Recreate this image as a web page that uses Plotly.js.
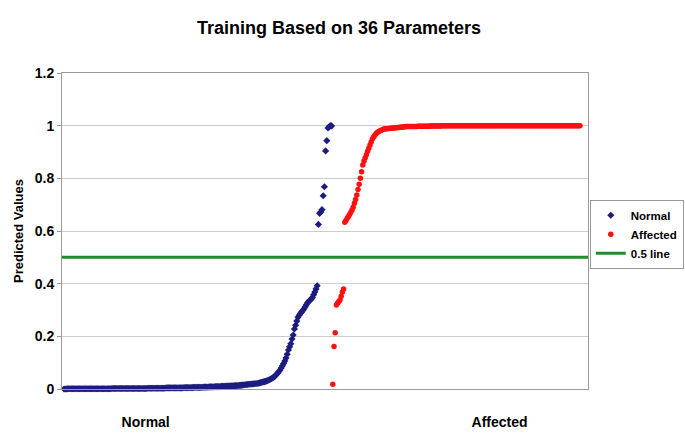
<!DOCTYPE html>
<html>
<head>
<meta charset="utf-8">
<script src="https://cdn.plot.ly/plotly-3.0.1.min.js"></script>
<style>
  html, body { margin: 0; padding: 0; background: #ffffff; }
  #plot { width: 685px; height: 443px; }
</style>
</head>
<body>
<div id="plot"></div>
<script>
// predicted values, sorted, one entry per sample
const normalValues = [
    0, 0, 0, 0.001, 0.001, 0.001, 0.001, 0.001, 0.001, 0.001,
    0.001, 0.001, 0.001, 0.001, 0.001, 0.001, 0.001, 0.001, 0.001, 0.001,
    0.001, 0.001, 0.001, 0.001, 0.001, 0.001, 0.001, 0.001, 0.001, 0.001,
    0.001, 0.001, 0.001, 0.001, 0.001, 0.001, 0.001, 0.001, 0.001, 0.001,
    0.002, 0.002, 0.002, 0.002, 0.002, 0.002, 0.002, 0.002, 0.002, 0.002,
    0.002, 0.002, 0.002, 0.002, 0.002, 0.002, 0.002, 0.002, 0.002, 0.002,
    0.002, 0.002, 0.002, 0.002, 0.002, 0.002, 0.002, 0.002, 0.002, 0.002,
    0.003, 0.003, 0.003, 0.003, 0.003, 0.003, 0.003, 0.003, 0.003, 0.003,
    0.003, 0.003, 0.003, 0.003, 0.003, 0.004, 0.004, 0.004, 0.004, 0.004,
    0.004, 0.004, 0.004, 0.004, 0.004, 0.004, 0.004, 0.004, 0.004, 0.004,
    0.005, 0.005, 0.005, 0.005, 0.005, 0.005, 0.005, 0.005,
    0.006, 0.006, 0.006, 0.006, 0.006, 0.006, 0.006, 0.006,
    0.007, 0.007, 0.007, 0.007, 0.007, 0.008, 0.008, 0.008, 0.008, 0.008,
    0.009, 0.009, 0.009, 0.009, 0.009,
    0.010, 0.010, 0.010, 0.010, 0.011, 0.011, 0.011, 0.011,
    0.012, 0.012, 0.012, 0.012, 0.013, 0.013, 0.013,
    0.014, 0.014, 0.015, 0.015, 0.016, 0.016, 0.017, 0.017, 0.018, 0.018,
    0.019, 0.019, 0.020, 0.020, 0.021, 0.021, 0.022, 0.023,
    0.024, 0.026, 0.027, 0.028, 0.029, 0.031, 0.033,
    0.035, 0.037, 0.040, 0.042, 0.046,
    0.050, 0.055, 0.060, 0.066, 0.072, 0.080, 0.088, 0.097, 0.106, 0.118,
    0.132, 0.148, 0.160, 0.172, 0.190, 0.205, 0.228, 0.242, 0.258, 0.272,
    0.280, 0.287, 0.292, 0.298, 0.305, 0.312, 0.320, 0.328, 0.333, 0.337,
    0.342, 0.347, 0.358, 0.368, 0.380, 0.392,
    0.625, 0.667, 0.672, 0.681, 0.734, 0.768, 0.904, 0.943, 0.991, 0.996,
    1.0, 0.999
];

const affectedValues = [
    0.018, 0.161, 0.214, 0.319, 0.326, 0.332, 0.338, 0.352, 0.368, 0.380,
    0.633, 0.640, 0.648, 0.655, 0.663, 0.671, 0.680, 0.690, 0.705, 0.720,
    0.737, 0.758, 0.778, 0.800, 0.825, 0.851, 0.866, 0.878, 0.890, 0.903,
    0.914, 0.927, 0.938, 0.949, 0.957, 0.964, 0.969, 0.974, 0.977, 0.980,
    0.982, 0.984, 0.986, 0.987,
    0.988, 0.988, 0.989, 0.989, 0.990, 0.990, 0.991, 0.991, 0.992, 0.992,
    0.993, 0.993, 0.994, 0.994, 0.995, 0.995, 0.996,
    0.997, 0.997, 0.997, 0.997, 0.997, 0.997, 0.997, 0.997, 0.997, 0.997,
    0.998, 0.998, 0.998, 0.998, 0.998, 0.998, 0.998, 0.998, 0.998, 0.998,
    0.999, 0.999, 0.999, 0.999, 0.999, 0.999, 0.999, 0.999, 0.999, 0.999,
    1, 1, 1, 1, 1, 1, 1, 1, 1, 1, 1, 1, 1, 1, 1, 1, 1, 1, 1, 1,
    1, 1, 1, 1, 1, 1, 1, 1, 1, 1, 1, 1, 1, 1, 1, 1, 1, 1, 1, 1,
    1, 1, 1, 1, 1, 1, 1, 1, 1, 1, 1, 1, 1, 1, 1, 1, 1, 1, 1, 1,
    1, 1, 1, 1, 1, 1, 1, 1, 1, 1, 1, 1, 1, 1, 1, 1, 1, 1, 1, 1,
    1, 1, 1, 1, 1, 1, 1, 1, 1, 1, 1, 1, 1, 1, 1, 1, 1, 1, 1, 1,
    1, 1, 1, 1, 1, 1, 1, 1, 1, 1, 1, 1, 1, 1, 1, 1
];

const groupLabels = ["Normal", "Affected"];
const thresholdValue = 0.5;
const yTicks = [0, 0.2, 0.4, 0.6, 0.8, 1, 1.2];

const xRange = [-1.7, 436.7];
const boldFont = { family: "Arial, 'Liberation Sans', sans-serif", color: "#000000", weight: 700 };

const traces = [
    {
        y: normalValues,
        x0: 0,
        dx: 1,
        type: "scatter",
        mode: "markers",
        name: "Normal",
        cliponaxis: false,
        marker: { symbol: "diamond", size: 5.5, color: "#1c1c80" }
    },
    {
        y: affectedValues,
        x0: normalValues.length,
        dx: 1,
        type: "scatter",
        mode: "markers",
        name: "Affected",
        cliponaxis: false,
        marker: { symbol: "circle", size: 5.5, color: "#ff1010" }
    },
    {
        x: xRange,
        y: [thresholdValue, thresholdValue],
        type: "scatter",
        mode: "lines",
        name: "0.5 line",
        line: { color: "#1e8c2a", width: 3 }
    }
];

const layout = {
    width: 685,
    height: 443,
    margin: { l: 62, r: 97, t: 73, b: 54 },
    paper_bgcolor: "#ffffff",
    plot_bgcolor: "#ffffff",
    title: {
        text: "Training Based on 36 Parameters",
        font: Object.assign({}, boldFont, { size: 18 }),
        xref: "container",
        x: 0.495,
        y: 0.937,
        yanchor: "middle"
    },
    xaxis: {
        range: xRange,
        showgrid: false,
        zeroline: false,
        showline: true,
        linecolor: "#9a9a9a",
        linewidth: 1,
        mirror: true,
        ticks: "",
        tickmode: "array",
        tickvals: [68, 363],
        ticktext: groupLabels,
        ticklabelstandoff: 20,
        tickfont: Object.assign({}, boldFont, { size: 14 })
    },
    yaxis: {
        range: [0, 1.2],
        tickmode: "array",
        tickvals: yTicks,
        ticktext: yTicks.map(String),
        showgrid: true,
        gridcolor: "#cccccc",
        gridwidth: 1,
        zeroline: false,
        showline: true,
        linecolor: "#9a9a9a",
        linewidth: 1,
        mirror: true,
        ticks: "outside",
        ticklen: 4,
        tickcolor: "#9a9a9a",
        tickfont: Object.assign({}, boldFont, { size: 14 }),
        title: {
            text: "Predicted Values",
            font: Object.assign({}, boldFont, { size: 13 }),
            standoff: 8
        }
    },
    showlegend: true,
    legend: {
        xref: "container",
        yref: "container",
        x: 0.861,
        xanchor: "left",
        y: 0.549,
        yanchor: "top",
        bgcolor: "#ffffff",
        bordercolor: "#9a9a9a",
        borderwidth: 1,
        font: Object.assign({}, boldFont, { size: 11.5 }),
        tracegroupgap: 0,
        itemwidth: 30
    }
};

Plotly.newPlot("plot", traces, layout, { displayModeBar: false, staticPlot: true });
</script>
</body>
</html>
